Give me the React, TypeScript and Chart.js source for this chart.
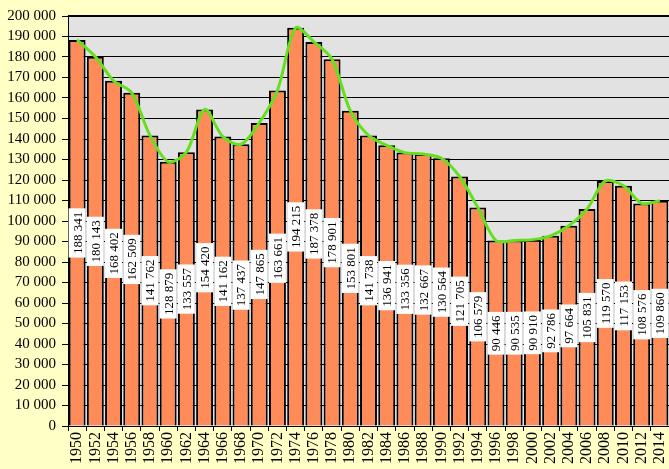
import React, { useEffect, useRef } from "react";
import { Chart, registerables } from "chart.js";

Chart.register(...registerables);

const years: string[] = [
  "1950", "1952", "1954", "1956", "1958", "1960", "1962", "1964", "1966", "1968",
  "1970", "1972", "1974", "1976", "1978", "1980", "1982", "1984", "1986", "1988",
  "1990", "1992", "1994", "1996", "1998", "2000", "2002", "2004", "2006", "2008",
  "2010", "2012", "2014",
];

const values: number[] = [
  188341, 180143, 168402, 162509, 141762, 128879, 133557, 154420, 141162, 137437,
  147865, 163661, 194215, 187378, 178901, 153801, 141738, 136941, 133356, 132667,
  130564, 121705, 106579, 90446, 90535, 90910, 92786, 97664, 105831, 119570,
  117153, 108576, 109860,
];

const yMin = 0;
const yMax = 200000;
const yStep = 10000;

const fmt = (v: number) => {
  const s = Math.round(v).toString();
  return s.replace(/\B(?=(\d{3})+(?!\d))/g, " ");
};

const SERIF = "'Liberation Serif', 'Times New Roman', serif";

const bgPlugin = {
  id: "bgPlugin",
  beforeDraw(chart: any) {
    const { ctx, chartArea, width, height } = chart;
    ctx.save();
    ctx.fillStyle = "#FFFFC6";
    ctx.fillRect(0, 0, width, height);
    ctx.fillStyle = "#E2E2E2";
    ctx.fillRect(chartArea.left, chartArea.top, chartArea.right - chartArea.left, chartArea.bottom - chartArea.top);
    ctx.restore();
  },
  afterDraw(chart: any) {
    const { ctx, chartArea } = chart;
    ctx.save();
    ctx.strokeStyle = "#000";
    ctx.lineWidth = 2;
    ctx.beginPath();
    ctx.moveTo(chartArea.left, chartArea.top);
    ctx.lineTo(chartArea.right, chartArea.top);
    ctx.stroke();
    ctx.restore();
  },
};

const labelPlugin = {
  id: "labelPlugin",
  afterDatasetsDraw(chart: any) {
    const { ctx } = chart;
    const meta = chart.getDatasetMeta(0);
    const yScale = chart.scales.y;
    ctx.save();
    ctx.font = `13px ${SERIF}`;
    meta.data.forEach((el: any, i: number) => {
      const v = values[i];
      const text = fmt(v);
      const cy = yScale.getPixelForValue(v / 2);
      const cx = el.x;
      const tw = ctx.measureText(text).width;
      const bw = 17;
      const bh = tw + 7;
      ctx.fillStyle = "#FFFFFF";
      ctx.fillRect(cx - bw / 2, cy - bh / 2, bw, bh);
      ctx.save();
      ctx.translate(cx, cy);
      ctx.rotate(-Math.PI / 2);
      ctx.fillStyle = "#000";
      ctx.textAlign = "center";
      ctx.textBaseline = "middle";
      ctx.fillText(text, 0, 1);
      ctx.restore();
    });
    ctx.restore();
  },
};

export default function App() {
  const ref = useRef<HTMLCanvasElement | null>(null);

  useEffect(() => {
    if (!ref.current) return;
    const chart = new Chart(ref.current, {
      type: "bar",
      data: {
        labels: years,
        datasets: [
          {
            type: "bar",
            data: values,
            backgroundColor: "#FF8C58",
            borderColor: "#000000",
            borderWidth: 2,
            barPercentage: 0.93,
            categoryPercentage: 1.0,
            order: 2,
          } as any,
          {
            type: "line",
            data: values,
            borderColor: "#66E01E",
            borderWidth: 3,
            tension: 0.3,
            pointRadius: 0,
            fill: false,
            order: 0,
          } as any,
        ],
      },
      options: {
        responsive: false,
        animation: false,
        layout: { padding: { top: 16, right: 0, left: 0, bottom: 0 } },
        plugins: {
          legend: { display: false },
          tooltip: { enabled: false },
        },
        scales: {
          x: {
            offset: true,
            grid: {
              display: true,
              drawOnChartArea: false,
              offset: true,
              color: "#000",
              tickLength: 5,
            },
            border: { color: "#000", width: 1 },
            ticks: {
              color: "#000",
              font: { family: SERIF, size: 16 },
              minRotation: 90,
              maxRotation: 90,
              autoSkip: false,
              padding: 1,
            },
            afterFit(scale: any) {
              scale.height = 43;
              scale.paddingLeft = 0;
              scale.paddingRight = 0;
            },
          },
          y: {
            min: yMin,
            max: yMax,
            ticks: {
              stepSize: yStep,
              autoSkip: false,
              color: "#000",
              font: { family: SERIF, size: 15 },
              padding: 6,
              callback: (v: any) => fmt(Number(v)),
            },
            grid: {
              color: "#000",
              lineWidth: 1,
              borderDash: [3, 2],
              tickLength: 6,
              tickBorderDash: [],
              drawTicks: true,
            } as any,
            border: { color: "#000", width: 1 },
            afterFit(scale: any) {
              scale.width = 68;
            },
          },
        },
      },
      plugins: [bgPlugin, labelPlugin],
    });
    return () => chart.destroy();
  }, []);

  return (
    <div style={{ position: "absolute", left: 0, top: 0, width: 669, height: 469 }}>
      <canvas ref={ref} width={669} height={469} style={{ width: 669, height: 469, display: "block" }} />
    </div>
  );
}
